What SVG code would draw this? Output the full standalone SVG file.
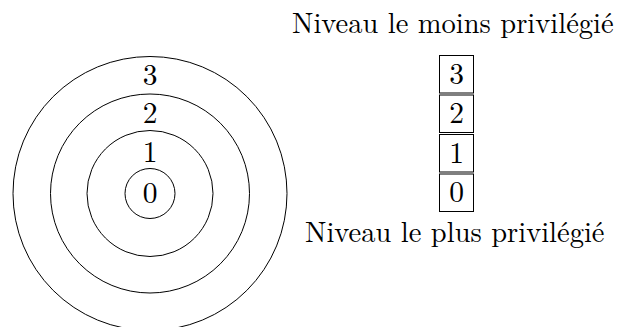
<svg xmlns="http://www.w3.org/2000/svg" width="624" height="327" viewBox="0 0 624 327">
<style>
.ring{fill:none;stroke:#000;stroke-width:1}
.box{fill:#fff;stroke:#000;stroke-width:1}
.num{font-family:'Latin Modern Roman','Liberation Serif',serif;font-size:29.5px;fill:#000;text-anchor:middle}
.lbl{font-family:'Latin Modern Roman','Liberation Serif',serif;font-size:28.5px;fill:#000}
</style>
<rect width="624" height="327" fill="#fff"/>
<g id="rings">
<g id="ring3"><circle class="ring" cx="150" cy="193.5" r="137"/><text class="num" x="150" y="85">3</text></g>
<g id="ring2"><circle class="ring" cx="150" cy="193.5" r="99.5"/><text class="num" x="150" y="123">2</text></g>
<g id="ring1"><circle class="ring" cx="150" cy="193.5" r="63"/><text class="num" x="150" y="161.5">1</text></g>
<g id="ring0"><circle class="ring" cx="150" cy="193.5" r="25"/><text class="num" x="150" y="203">0</text></g>
</g>
<g id="stack">
<g id="box3"><rect class="box" x="439.5" y="55.5" width="34" height="37.5"/><text class="num" x="456.5" y="83.5">3</text></g>
<g id="box2"><rect class="box" x="439.5" y="95" width="34" height="37.5"/><text class="num" x="456.5" y="123">2</text></g>
<g id="box1"><rect class="box" x="439.5" y="134.5" width="34" height="37.5"/><text class="num" x="456.5" y="162.5">1</text></g>
<g id="box0"><rect class="box" x="439.5" y="174" width="34" height="37.5"/><text class="num" x="456.5" y="202">0</text></g>
</g>
<g id="top-label"><text class="lbl" x="292" y="33">Niveau le moins privilégié</text></g>
<g id="bottom-label"><text class="lbl" x="305" y="242">Niveau le plus privilégié</text></g>
<g id="connectors"/>
</svg>
